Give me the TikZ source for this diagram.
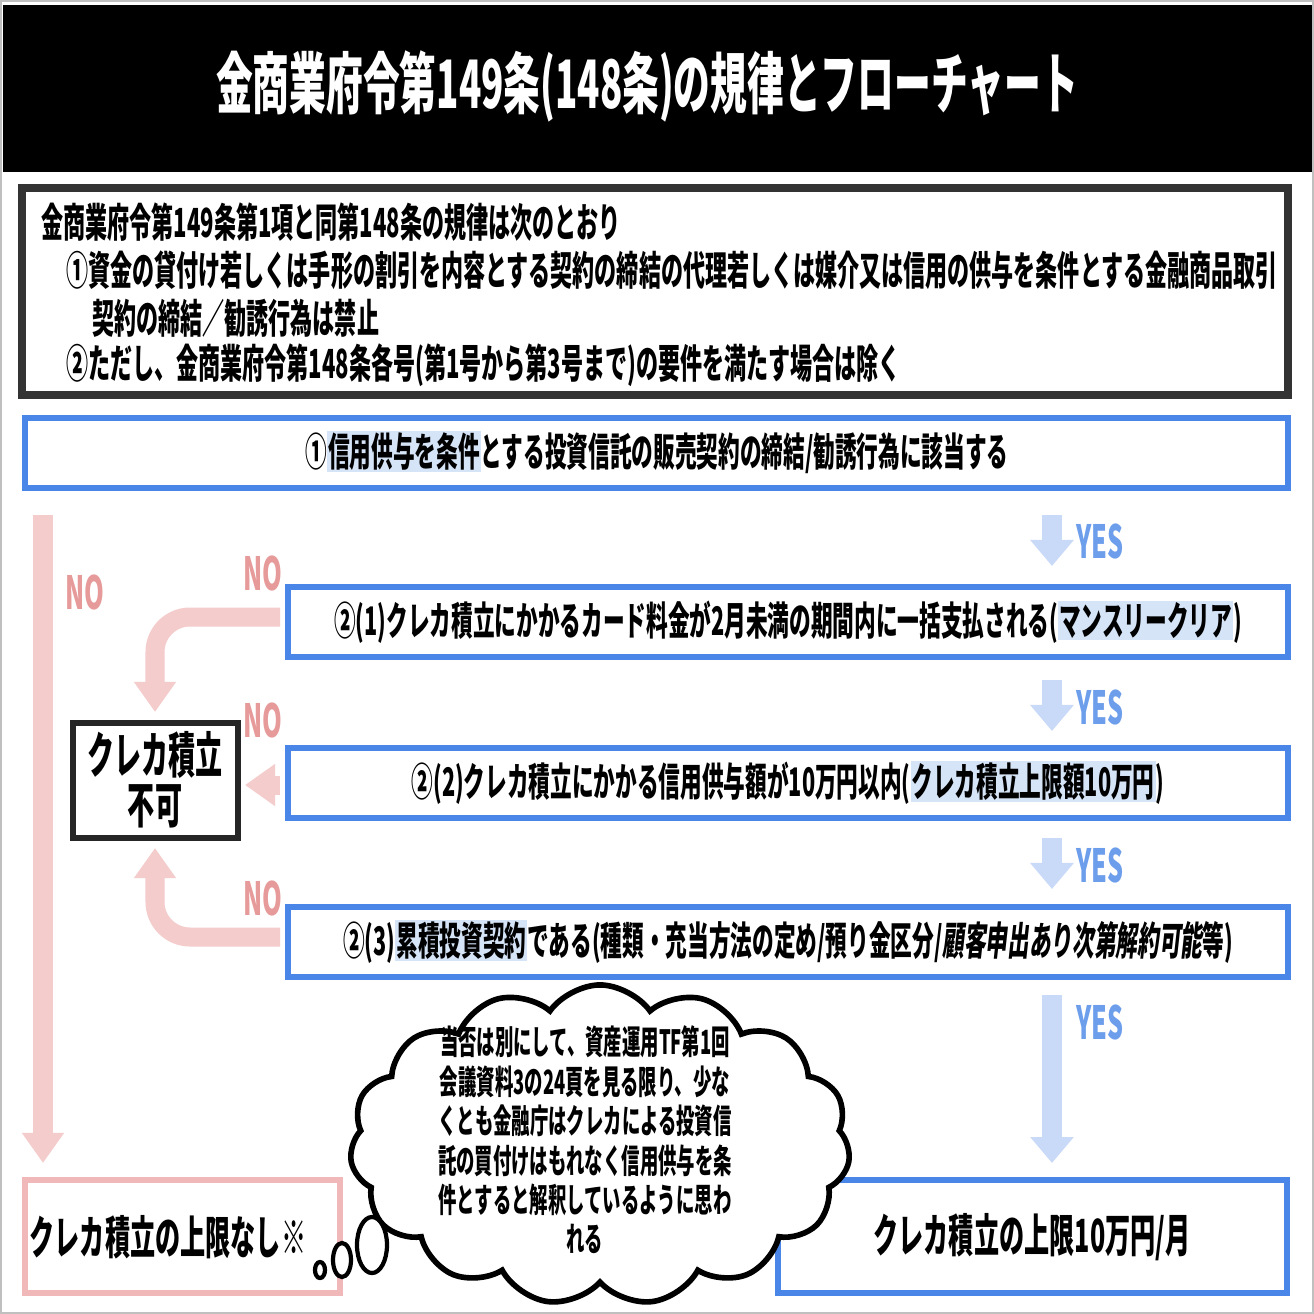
\documentclass[tikz,border=0pt]{standalone}
\usepackage{fontspec}
\setmainfont{Noto Sans CJK JP}
\newfontfamily\slfont{Noto Sans CJK JP}[FakeSlant=0.2]
\usetikzlibrary{arrows.meta,shapes.symbols}
\definecolor{bblue}{HTML}{4A86E8}
\definecolor{lblue}{HTML}{C9DAF8}
\definecolor{hlb}{HTML}{D6E4F7}
\definecolor{yest}{HTML}{6D9EEB}
\definecolor{pinkc}{HTML}{F4CCCC}
\definecolor{pinkb}{HTML}{EA9999}
\definecolor{not}{HTML}{E79A9A}
\newcommand{\hlx}[1]{{\setlength\fboxsep{0.5pt}\colorbox{hlb}{#1}}}
\newcommand{\sq}[1]{\scalebox{0.55}[1]{\bfseries #1}}
\tikzset{
 px/.style={x=0.01cm,y=-0.01cm},
 qbox/.style={draw=bblue,line width=1.6pt,fill=white},
 yesarr/.style={lblue,line width=0.2cm,-{Triangle[length=0.26cm,width=0.42cm]}},
 noarr/.style={pinkc,line width=0.19cm,rounded corners=0.35cm,-{Triangle[length=0.3cm,width=0.4cm]}},
 yeslbl/.style={text=yest,font=\fontsize{13}{13}\selectfont},
 nolbl/.style={text=not,font=\fontsize{13}{13}\selectfont},
 qtext/.style={font=\fontsize{11.2}{12}\selectfont},
 btext/.style={anchor=west,font=\fontsize{11.4}{12}\selectfont},
}
\begin{document}
\begin{tikzpicture}[px]
\useasboundingbox (0,0) rectangle (1314,1314);
\fill[white] (0,0) rectangle (1314,1314);
\draw[gray!50] (1,1) rectangle (1313,1313);
\fill[black] (3,5) rectangle (1312,172);
\node[text=white,font=\fontsize{19}{19}\selectfont] (title) at (647,86) {\sq{金商業府令第149条(148条)の規律とフローチャート}};
% box 1
\draw[draw=black!80,line width=2.2pt] (22,188) rectangle (1288,395);
\node[btext] (l1) at (29,222) {\sq{金商業府令第149条第1項と同第148条の規律は次のとおり}};
\node[btext] (l2) at (54,270) {\sq{①資金の貸付け若しくは手形の割引を内容とする契約の締結の代理若しくは媒介又は信用の供与を条件とする金融商品取引}};
\node[btext] (l3) at (80,318) {\sq{契約の締結／勧誘行為は禁止}};
\node[btext] (l4) at (54,365) {\sq{②ただし、金商業府令第148条各号(第1号から第3号まで)の要件を満たす場合は除く}};
% questions
\draw[qbox] (25,418) rectangle (1288,488);
\node[qtext] (q1) at (657,452) {\sq{①\hlx{信用供与を条件}とする投資信託の販売契約の締結/勧誘行為に該当する}};
\draw[qbox] (288,587) rectangle (1288,657);
\node[qtext] (q2) at (788,622) {\sq{②(1)クレカ積立にかかるカード料金が2月未満の期間内に一括支払される(\hlx{マンスリークリア})}};
\draw[qbox] (288,748) rectangle (1288,818);
\node[qtext] (q3) at (788,783) {\sq{②(2)クレカ積立にかかる信用供与額が10万円以内(\hlx{クレカ積立上限額10万円})}};
\draw[qbox] (288,907) rectangle (1288,977);
\node[qtext] (q4) at (788,942) {\sq{②(3)\hlx{累積投資契約}である(種類・充当方法の定め/預り金区分/{\slfont\bfseries 顧客申出あり次第解約可能}等)}};
% yes arrows
\coordinate (y1a) at (1052,515); \coordinate (y1b) at (1052,566);
\coordinate (y2a) at (1052,680); \coordinate (y2b) at (1052,731);
\coordinate (y3a) at (1052,838); \coordinate (y3b) at (1052,889);
\coordinate (y4a) at (1052,995); \coordinate (y4b) at (1052,1163);
\draw[yesarr] (y1a) -- (y1b); \draw[yesarr] (y2a) -- (y2b);
\draw[yesarr] (y3a) -- (y3b); \draw[yesarr] (y4a) -- (y4b);
\node[yeslbl] (yes1) at (1100,541) {\sq{YES}};
\node[yeslbl] (yes2) at (1100,707) {\sq{YES}};
\node[yeslbl] (yes3) at (1100,865) {\sq{YES}};
\node[yeslbl] (yes4) at (1100,1022) {\sq{YES}};
% NG box
\draw[draw=black!85,line width=1.6pt] (73,723) rectangle (238,838);
\node[font=\fontsize{14}{18}\selectfont] (ng1) at (155,755) {\sq{クレカ積立}};
\node[font=\fontsize{14}{18}\selectfont] (ng2) at (155,806) {\sq{不可}};
% no arrows
\draw[noarr] (280,617) -- (155,617) -- (155,712);
\draw[noarr] (280,785) -- (245,785);
\draw[noarr] (280,937) -- (155,937) -- (155,848);
\draw[noarr,rounded corners=0] (43,515) -- (43,1163);
\node[nolbl] (no1) at (263,573) {\sq{NO}};
\node[nolbl] (no2) at (263,720) {\sq{NO}};
\node[nolbl] (no3) at (263,898) {\sq{NO}};
\node[nolbl] (no4) at (85,592) {\sq{NO}};
% results
\draw[draw=pinkb!70,line width=1.6pt] (25,1180) rectangle (340,1293);
\node[font=\fontsize{13}{13}\selectfont] (r1) at (168,1237) {\sq{クレカ積立の上限なし※}};
\draw[qbox] (778,1180) rectangle (1287,1293);
\node[font=\fontsize{13}{13}\selectfont] (r2) at (1032,1237) {\sq{クレカ積立の上限10万円/月}};
% cloud
\node[cloud,cloud puffs=15,cloud puff arc=110,aspect=1.5,draw=black,line width=1.6pt,fill=white,minimum width=5.0cm,minimum height=3.2cm] (cl) at (600,1145) {};
\node[font=\fontsize{9.5}{11.2}\selectfont,align=center] (clt) at (585,1140) {\sq{当否は別にして、資産運用TF第1回}\\\sq{会議資料3の24頁を見る限り、少な}\\\sq{くとも金融庁はクレカによる投資信}\\\sq{託の買付けはもれなく信用供与を条}\\\sq{件とすると解釈しているように思わ}\\\sq{れる}};
\draw[black,line width=1.2pt,fill=white] (372,1245) ellipse (0.15cm and 0.28cm);
\draw[black,line width=1.2pt,fill=white] (342,1260) ellipse (0.09cm and 0.17cm);
\draw[black,line width=1.2pt,fill=white] (320,1270) ellipse (0.05cm and 0.08cm);
\end{tikzpicture}
\end{document}
